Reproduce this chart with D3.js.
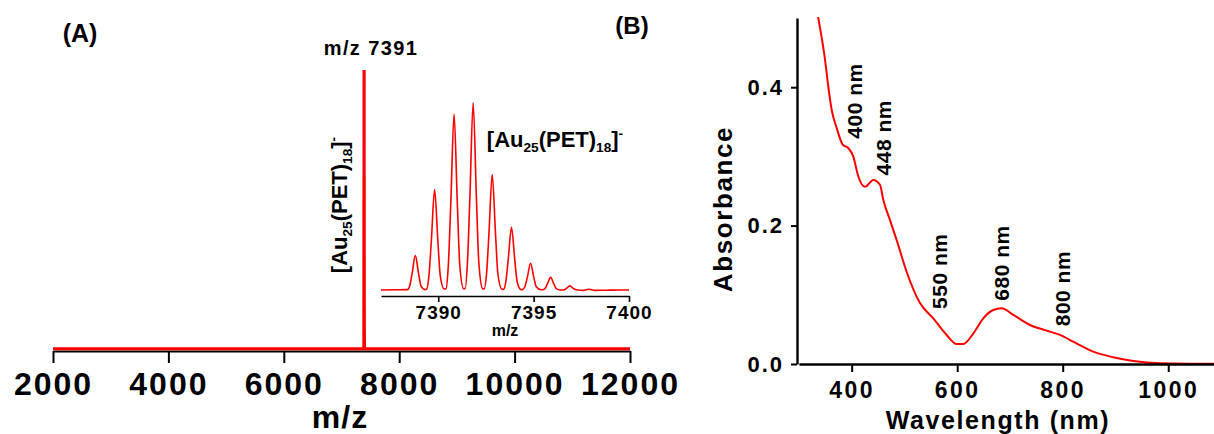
<!DOCTYPE html>
<html>
<head>
<meta charset="utf-8">
<script src="https://cdn.jsdelivr.net/npm/d3@7"></script>
<style>
  html, body { margin: 0; padding: 0; background: #fff; }
  svg { display: block; font-family: "Liberation Sans", Arial, sans-serif; font-weight: bold; }
</style>
</head>
<body>
<svg id="chart" width="1214" height="434"></svg>
<script>
// ---------- Panel A: ESI mass spectrum, [Au25(PET)18]- isotope cluster ----------
const msMz = [
  7387.0, 7387.8,
  7388.38, 7388.50, 7388.63, 7388.80, 7388.97, 7389.10, 7389.30,
  7389.39, 7389.51, 7389.64, 7389.81, 7389.98, 7390.11, 7390.31,
  7390.41, 7390.53, 7390.66, 7390.83, 7391.00, 7391.13, 7391.33,
  7391.41, 7391.53, 7391.66, 7391.83, 7392.00, 7392.13, 7392.33,
  7392.41, 7392.53, 7392.66, 7392.83, 7393.00, 7393.13, 7393.34,
  7393.42, 7393.54, 7393.67, 7393.84, 7394.01, 7394.14, 7394.34,
  7394.42, 7394.54, 7394.67, 7394.84, 7395.01, 7395.14, 7395.38,
  7395.47, 7395.59, 7395.72, 7395.89, 7396.06, 7396.19, 7396.40,
  7396.55, 7396.72, 7396.90, 7397.08, 7397.30,
  7397.60, 7397.90, 7398.20,
  7398.8, 7399.5, 7400.0
];
const msIntensity = [
  0.8, 0.9,
  1.0, 2.8, 9.5, 19, 9.5, 2.8, 1.0,
  1.2, 8, 27, 54, 27, 8, 1.3,
  1.5, 14, 47, 94, 47, 14, 1.5,
  1.5, 15, 50, 100, 50, 15, 1.4,
  1.3, 9, 31, 62, 31, 9, 1.2,
  1.1, 5, 17, 34, 17, 5, 1.0,
  1.0, 2.5, 7.5, 15, 7.5, 2.5, 0.9,
  0.9, 1.5, 4, 7.5, 4, 1.5, 0.8,
  0.8, 1.6, 3, 1.6, 0.8,
  0.6, 1.2, 0.6,
  0.7, 0.8, 0.8
];
const msBaseline = 0.8;
const msRange = [2000, 12000];
const msTicks = [2000, 4000, 6000, 8000, 10000, 12000];
const zoomRange = [7387, 7400];
const zoomTicks = [7390, 7395, 7400];

// ---------- Panel B: UV-vis absorption spectrum ----------
const wavelength = [
  330, 336.8, 349.5, 355.7, 362.2, 371.6, 383, 393.6, 403, 412.6, 425.3,
  441, 453.7, 460, 472.6, 485.3, 504.3, 529.5, 554.7, 580, 599, 611.6,
  630.5, 649.5, 668.4, 684.3, 706.3, 738, 769.6, 794.8, 820, 857.9,
  895.8, 933.7, 984, 1040, 1100
];
const absorbance = [
  0.53, 0.50, 0.44, 0.401, 0.367, 0.341, 0.317, 0.312, 0.300, 0.271, 0.256,
  0.266, 0.259, 0.237, 0.208, 0.179, 0.133, 0.088, 0.066, 0.042, 0.029, 0.029,
  0.044, 0.066, 0.078, 0.0805, 0.071, 0.0564, 0.0482, 0.042, 0.0323, 0.0178,
  0.0097, 0.0043, 0.001, 0.0005, 0.0005
];
const uvTicksX = [400, 600, 800, 1000];
const uvTicksY = [0, 0.2, 0.4];
const bandNames = ["400 nm", "448 nm", "550 nm", "680 nm", "800 nm"];

const svg = d3.select("#chart");
const red = "#ff0000";
const intFmt = d3.format("d");

// ===== Panel A =====
const xMs = d3.scaleLinear().domain(msRange).range([53, 630]);
const yMs = d3.scaleLinear().domain([0, 100]).range([351, 70]);

const fullTrace = [[msRange[0], msBaseline]]
  .concat(msMz.map((m, i) => [m, msIntensity[i]]))
  .concat([[msRange[1], msBaseline]]);

const axA = svg.append("g")
  .attr("transform", "translate(0,351)")
  .call(d3.axisBottom(xMs).tickValues(msTicks).tickFormat(intFmt).tickSize(12).tickPadding(9).tickSizeOuter(0));
axA.select(".domain").attr("stroke", "#000").attr("stroke-width", 2);
axA.selectAll(".tick line").attr("stroke", "#000").attr("stroke-width", 2);
axA.selectAll(".tick text")
  .attr("fill", "#000")
  .style("font-size", "32px").style("font-weight", "bold")
  .style("letter-spacing", "2px")
  .style("font-family", "'Liberation Sans', Arial, sans-serif");

svg.append("path")
  .datum(fullTrace)
  .attr("fill", "none").attr("stroke", red).attr("stroke-width", 3.2)
  .attr("stroke-linejoin", "bevel")
  .attr("d", d3.line().x(d => xMs(d[0])).y(d => yMs(d[1])));

svg.append("text").attr("x", 340).attr("y", 428).attr("text-anchor", "middle")
  .style("font-size", "32px").style("letter-spacing", "1px").text("m/z");

svg.append("text").attr("x", 80).attr("y", 42).attr("text-anchor", "middle")
  .style("font-size", "25px").text("(A)");

svg.append("text").attr("x", 371).attr("y", 55).attr("text-anchor", "middle")
  .style("font-size", "20px").style("letter-spacing", "1.4px").text("m/z 7391");

// Formula label with subscripts and charge superscript
function formula(sel, size) {
  const sub = size * 0.62;
  sel.append("tspan").text("[Au");
  sel.append("tspan").attr("dy", size * 0.22).style("font-size", sub + "px").text("25");
  sel.append("tspan").attr("dy", -size * 0.22).text("(PET)");
  sel.append("tspan").attr("dy", size * 0.22).style("font-size", sub + "px").text("18");
  sel.append("tspan").attr("dy", -size * 0.22).text("]");
  sel.append("tspan").attr("dy", -size * 0.42).style("font-size", sub + "px").text("-");
}

const rotLabel = svg.append("text")
  .attr("transform", "translate(347,205) rotate(-90)")
  .attr("text-anchor", "middle")
  .style("font-size", "22px");
formula(rotLabel, 22);

// Inset: zoomed isotope pattern
const xIn = d3.scaleLinear().domain(zoomRange).range([381, 629]);
const yIn = d3.scaleLinear().domain([0, 100]).range([291.5, 102.7]);

svg.append("path")
  .datum(msMz.map((m, i) => [m, msIntensity[i]]))
  .attr("fill", "none").attr("stroke", red).attr("stroke-width", 1.6)
  .attr("d", d3.line().curve(d3.curveMonotoneX).x(d => xIn(d[0])).y(d => yIn(d[1])));

const axIn = svg.append("g")
  .attr("transform", "translate(0,296)")
  .call(d3.axisBottom(xIn).tickValues(zoomTicks).tickFormat(intFmt).tickSize(6).tickPadding(4).tickSizeOuter(0));
axIn.select(".domain").attr("stroke", "#000").attr("stroke-width", 1.6);
axIn.selectAll(".tick line").attr("stroke", "#000").attr("stroke-width", 1.6);
axIn.selectAll(".tick text")
  .attr("fill", "#000")
  .style("font-size", "19px").style("font-weight", "bold")
  .style("letter-spacing", "1px")
  .style("font-family", "'Liberation Sans', Arial, sans-serif");

svg.append("text").attr("x", 505).attr("y", 336).attr("text-anchor", "middle")
  .style("font-size", "16px").text("m/z");

const inLabel = svg.append("text")
  .attr("x", 555).attr("y", 147).attr("text-anchor", "middle")
  .style("font-size", "22px");
formula(inLabel, 22);

// ===== Panel B =====
const xUv = d3.scaleLinear().domain([300, 1100]).range([798.9, 1221]);
const yUv = d3.scaleLinear().domain([0, 0.5]).range([364, 18]);

svg.append("defs").append("clipPath").attr("id", "uvClip")
  .append("rect").attr("x", 797).attr("y", 17).attr("width", 420).attr("height", 350);

svg.append("path")
  .datum(wavelength.map((w, i) => [w, absorbance[i]]))
  .attr("clip-path", "url(#uvClip)")
  .attr("fill", "none").attr("stroke", red).attr("stroke-width", 2)
  .attr("d", d3.line().curve(d3.curveMonotoneX).x(d => xUv(d[0])).y(d => yUv(d[1])));

const axBx = svg.append("g")
  .attr("transform", "translate(0,364)")
  .call(d3.axisBottom(xUv).tickValues(uvTicksX).tickFormat(intFmt).tickSize(8).tickPadding(10).tickSizeOuter(0));
const axBy = svg.append("g")
  .attr("transform", "translate(797,0)")
  .call(d3.axisLeft(yUv).tickValues(uvTicksY).tickFormat(d3.format(".1f")).tickSize(6).tickPadding(7).tickSizeOuter(0));
[axBx, axBy].forEach(g => {
  g.select(".domain").attr("stroke", "#000").attr("stroke-width", 2.4);
  g.selectAll(".tick line").attr("stroke", "#000").attr("stroke-width", 2);
  g.selectAll(".tick text")
    .attr("fill", "#000")
    .style("font-size", "23px").style("font-weight", "bold")
    .style("letter-spacing", "2.5px")
    .style("font-family", "'Liberation Sans', Arial, sans-serif");
});
axBy.selectAll(".tick text").style("font-size", "22px").style("letter-spacing", "2px");

svg.append("text").attr("x", 998).attr("y", 429).attr("text-anchor", "middle")
  .style("font-size", "25px").style("letter-spacing", "1.6px").text("Wavelength (nm)");

svg.append("text").attr("transform", "translate(732,209) rotate(-90)")
  .attr("text-anchor", "middle")
  .style("font-size", "26px").style("letter-spacing", "1.6px").text("Absorbance");

svg.append("text").attr("x", 632).attr("y", 34).attr("text-anchor", "middle")
  .style("font-size", "24px").text("(B)");

// Band annotations, anchored in data coordinates
const bandPos = [[419.6, 0.38], [474.5, 0.327], [580.6, 0.134], [698, 0.146], [813.7, 0.109]];
svg.append("g").selectAll("text").data(bandNames).join("text")
  .attr("transform", (d, i) => `translate(${xUv(bandPos[i][0])},${yUv(bandPos[i][1])}) rotate(-90)`)
  .attr("text-anchor", "middle")
  .style("font-size", "21px").style("letter-spacing", "0.5px")
  .text(d => d);
</script>
</body>
</html>
